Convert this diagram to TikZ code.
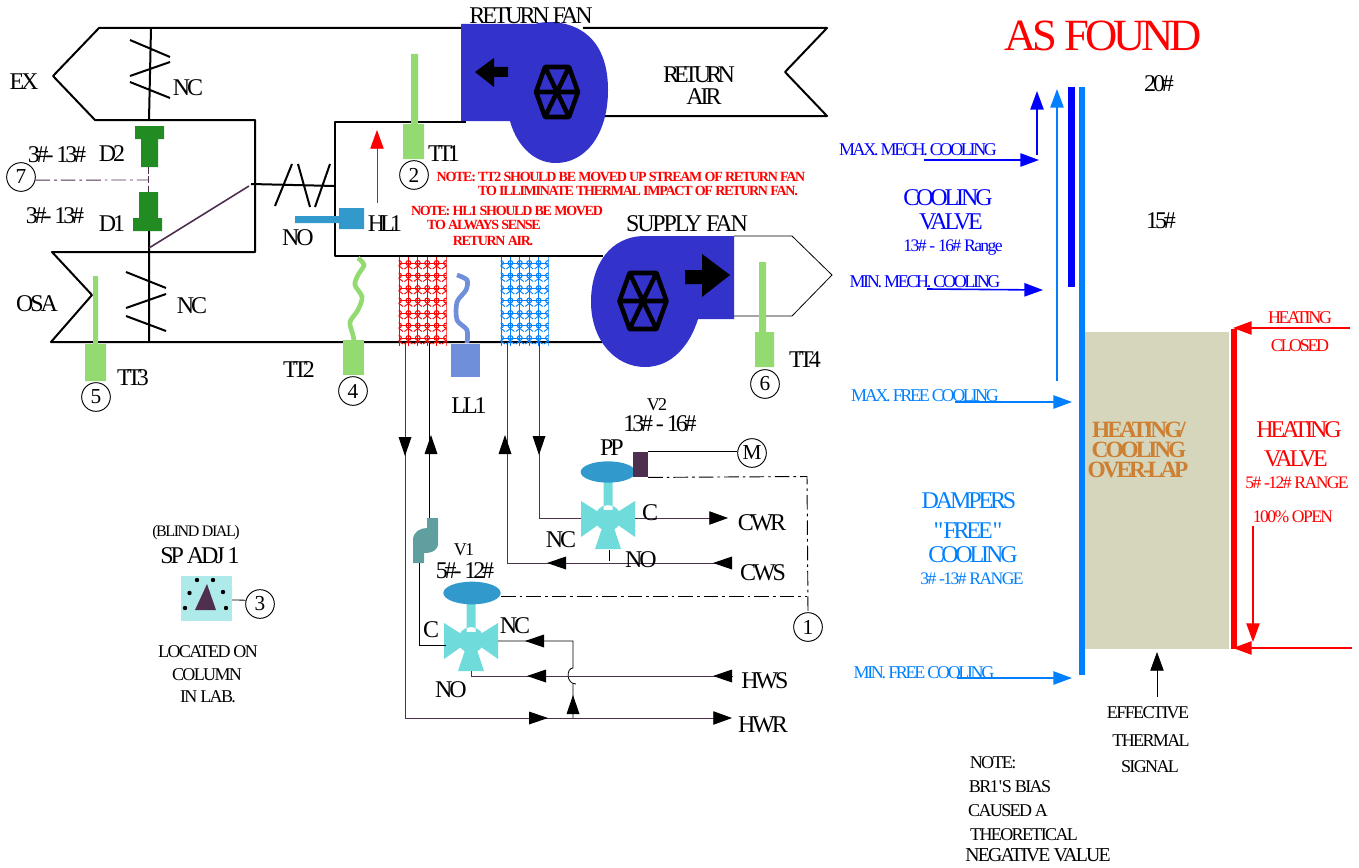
\documentclass[tikz,border=0pt]{standalone}
\usepackage{fontspec}
\setmainfont[LetterSpace=-13]{Liberation Serif}
\newfontfamily\loosefont[LetterSpace=-9]{Liberation Serif}
\newfontfamily\squeezefont[LetterSpace=-20]{Liberation Serif}
\usetikzlibrary{shapes.geometric,arrows.meta,calc,positioning}
\definecolor{fangreen}{RGB}{34,139,34}
\definecolor{sensegreen}{RGB}{147,219,112}
\definecolor{fanblue}{RGB}{51,51,204}
\definecolor{actblue}{RGB}{50,153,204}
\definecolor{valvecyan}{RGB}{112,219,219}
\definecolor{elbowteal}{RGB}{95,159,159}
\definecolor{levelblue}{RGB}{112,143,219}
\definecolor{linkpurple}{RGB}{79,47,79}
\definecolor{skyblue}{RGB}{0,128,255}
\definecolor{bandtan}{RGB}{214,214,188}
\definecolor{bandorange}{RGB}{205,127,50}
\definecolor{dialcyan}{RGB}{175,234,234}
\tikzset{
    txt/.style ={inner sep=0pt, font=\fontsize{18}{18}\selectfont},
    squeezed/.style ={inner sep=0pt, font=\squeezefont\fontsize{18}{18}\selectfont},
    mid/.style ={inner sep=0pt, font=\fontsize{13.5}{14}\selectfont},
    loose/.style ={inner sep=0pt, font=\loosefont\fontsize{13.5}{14}\selectfont},
    small/.style ={inner sep=0pt, font=\loosefont\fontsize{13.2}{14}\selectfont},
    big/.style ={inner sep=0pt, font=\loosefont\fontsize{33.5}{34}\selectfont},
    note/.style ={inner sep=0pt, red, font=\loosefont\bfseries\fontsize{10.5}{11}\selectfont},
    tag/.style ={circle, draw, line width=0.7pt, minimum size=21.5pt, inner sep=0pt, font=\loosefont\fontsize{16}{16}\selectfont},
    wall/.style ={line width=1.5pt},
    pipe/.style ={line width=0.6pt, linkpurple},
    bline/.style ={line width=0.6pt, black},
    ctrl/.style ={line width=0.7pt, dash pattern=on 11pt off 3pt on 2pt off 3pt},
    tipped/.style ={-{Triangle[length=14pt,width=10pt]}},
    blacktip/.style ={-{Triangle[length=14pt,width=10pt,black]}},
    tip/.pic ={\fill (0,0) -- (-19,6.5) -- (-19,-6.5) -- cycle;},
    fanwheel/.pic ={\draw[line width=3.4pt, line join=round] (-21,0) -- (-12,-25) -- (12,-25) -- (21,0) -- (12,25) -- (-12,25) -- cycle
        (-21,0) -- (21,0) (-12,-25) -- (12,25) (12,-25) -- (-12,25);},
    valvebody/.pic ={\fill[valvecyan] (-27,-19) -- (0,-2) -- (27,-19) -- (27,17) -- (0,-2) -- (-27,17) -- cycle
        (0,-2) circle (13) (-6,8) -- (6,8) -- (13,29) -- (-13,29) -- cycle (-4.5,-38) rectangle (4.5,-10);}
}
\newcommand{\coilmesh}[2]{%
    \begin{scope}
    \clip (#1-0.5,257) rectangle (#1+47.5,346);
    \foreach \cx in {0,1,...,5} \draw[#2, line width=0.7pt] (#1+\cx*9.4,257) -- (#1+\cx*9.4,346);
    \foreach \cy in {0,1,...,6} \draw[#2, line width=0.7pt] (#1,263+\cy*12.5) -- (#1+47,263+\cy*12.5);
    \foreach \cx in {0,1,...,5} \foreach \cy in {0,1,...,6} {
        \draw[#2, line width=0.8pt] (#1+\cx*9.4,263+\cy*12.5) circle (2.4);
        \draw[#2, line width=0.7pt] (#1+\cx*9.4-4,263+\cy*12.5+6) -- (#1+\cx*9.4,263+\cy*12.5+3) -- (#1+\cx*9.4+4,263+\cy*12.5+6);
    }
    \end{scope}
}
\begin{document}
\begin{tikzpicture}[x=0.75pt,y=-0.75pt]
    \useasboundingbox (0,0) rectangle (1359,867);
    % ducts
    \draw[wall, line join=round] (461,28) -- (99,28) -- (53,76) -- (95,120) -- (255,120) -- (255,252) -- (52,252) -- (92,295) -- (51,342) -- (602,342);
    \draw[wall, line join=round] (583,28) -- (827,28) -- (785,72) -- (827,116) -- (603,116);
    \draw[wall, line join=round] (466,122) -- (335,122) -- (335,256) -- (603,256);
    \draw[line width=0.6pt] (734,236) -- (792,236) -- (832,275) -- (792,316) -- (732,316);
    % dampers
    \draw[wall] (151,28) -- (149,120) (130,40) -- (170,57) (130,76) -- (170,62) (130,82) -- (170,98);
    \draw[wall] (149,231) -- (149,342) (126,272) -- (166,288) (126,308) -- (166,294) (126,316) -- (166,331);
    \draw[wall] (251,184) -- (335,186) (275,206) -- (292,164) (298,164) -- (310,207) (315,207) -- (330,164);
    \draw[linkpurple, line width=1.2pt] (149,248) -- (249,186);
    \fill[fangreen] (135,126) rectangle (164,139) (141,139) rectangle (158,167);
    \fill[fangreen] (139,192) rectangle (158,218) (133,218) rectangle (162,231);
    % coils
    \coilmesh{399}{red}
    \coilmesh{501}{skyblue}
    % return fan
    \fill[fanblue] (461,24) -- (535,24) .. controls (545,20) and (608,15) .. (608,90) .. controls (608,135) and (585,163) .. (556,163) .. controls (530,163) and (515,140) .. (510,121) -- (461,121) -- cycle;
    \pic at (557,92) {fanwheel};
    \fill (475,72) -- (494,58) -- (494,67) -- (508,67) -- (508,77) -- (494,77) -- (494,87) -- cycle;
    % supply fan
    \fill[fanblue] (734,236) -- (645,236) .. controls (610,236) and (591,265) .. (591,302) .. controls (591,340) and (615,367) .. (645,367) .. controls (672,367) and (690,345) .. (698,319) -- (734,319) -- cycle;
    \pic[scale=1.12] at (643,301) {fanwheel};
    \fill (730,275) -- (702,254) -- (702,270) -- (685,270) -- (685,284) -- (702,284) -- (702,297) -- cycle;
    % sensors
    \fill[sensegreen] (93,276) rectangle (98,344) (85,344) rectangle (106,381);
    \fill[sensegreen] (411,54) rectangle (418,124) (403,124) rectangle (424,159);
    \fill[sensegreen] (759,262) rectangle (766,332) (755,332) rectangle (774,367);
    \fill[sensegreen] (343,340) rectangle (364,375);
    \draw[sensegreen, line width=3.5pt] plot[smooth] coordinates {(358,258) (364,265) (358,275) (355,285) (362,297) (358,310) (350,322) (353,335) (354,341)};
    \fill[levelblue] (451,344) rectangle (480,377);
    \draw[levelblue, line width=3.5pt] plot[smooth] coordinates {(457,275) (467,280) (466,290) (457,302) (457,320) (467,330) (467,343)};
    \fill[actblue] (295,216) rectangle (340,223) (339,208) rectangle (364,229);
    \draw[red, line width=0.6pt, -{Triangle[length=14pt,width=10pt]}] (377,203) -- (377,130);
    % valves
    \pic at (471,642) {valvebody};
    \pic at (608,520) {valvebody};
    \node[ellipse, fill=actblue, minimum width=43pt, minimum height=17pt, inner sep=0pt] (act1) at (472,593) {};
    \node[ellipse, fill=actblue, minimum width=41pt, minimum height=16pt, inner sep=0pt] (act2) at (608,472) {};
    \node[rectangle, fill=linkpurple, minimum width=11pt, minimum height=19pt, inner sep=0pt] (ppbox) at (640.5,464.5) {};
    \fill[elbowteal] (427,518) -- (438,518) -- (438,543) .. controls (438,550) and (433,553) .. (424,553) -- (424,563) -- (413,563) -- (413,540) .. controls (413,532) and (420,528) .. (427,528) -- cycle;
    % tags
    \node[tag] (c1) at (808,627) {\raisebox{-4pt}{1}};
    \node[tag] (c2) at (414,175) {\raisebox{-3pt}{2}};
    \node[tag] (c3) at (260,604) {\raisebox{-3pt}{3}};
    \node[tag] (c4) at (353,391) {\raisebox{-4pt}{4}};
    \node[tag] (c5) at (96,397) {\raisebox{-2pt}{5}};
    \node[tag] (c6) at (765,384) {\raisebox{-2pt}{6}};
    \node[tag] (c7) at (21,177) {\raisebox{-2pt}{7}};
    \node[tag] (cm) at (752,453) {\raisebox{-3pt}{M}};
    % control lines
    \coordinate (ctrlA) at (807,476.5);
    \coordinate (ctrlB) at (807,596);
    \draw[ctrl] (ppbox.south east) -- (ctrlA) -- (c1.north);
    \draw[ctrl] (act1.east |- ctrlB) -- (ctrlB);
    \draw[bline] (ppbox.north east) -- (ppbox.north east -| cm.west);
    \draw[linkpurple, ctrl] (c7.348) -- (148,180);
    \draw[linkpurple, line width=0.7pt, dash pattern=on 5pt off 2pt] (148,167) -- (148,192);
    % pipes
    \coordinate (hwrA) at (405,718);
    \draw[pipe, blacktip] (405,343) -- (hwrA) -- (732,718);
    \pic[rotate=270] at (405,456) {tip};
    \pic at (548,718) {tip};
    \draw[bline] (429,343) -- (429,518);
    \pic[rotate=90] at (431,435) {tip};
    \coordinate (v1c) at (419,645);
    \draw[bline] (419,563) -- (v1c) -- (446,645);
    \coordinate (cwsA) at (507,563);
    \draw[pipe] (507,343) -- (cwsA) -- (732,563);
    \pic[rotate=90] at (505,435) {tip};
    \pic[rotate=180] at (547,563) {tip};
    \pic[rotate=180] at (713,563) {tip};
    \coordinate (cwrA) at (539,518);
    \draw[pipe] (539,343) -- (cwrA) -- (581,518);
    \pic[rotate=270] at (539,455) {tip};
    \draw[pipe, blacktip] (635,518) -- (728,518);
    \draw[bline] (609,550) -- (609,561);
    \coordinate (ncA) at (573,641);
    \draw[bline] (498,641) -- (ncA) -- (573,668) .. controls (566,668) and (566,684) .. (576,684) (573,684) -- (573,718);
    \pic[rotate=180] at (525,641) {tip};
    \pic[rotate=90] at (573,695) {tip};
    \coordinate (hwsA) at (471,676);
    \draw[pipe] (471,671) -- (hwsA) -- (733,676);
    \pic[rotate=180] at (527,676) {tip};
    \pic[rotate=180] at (713,676) {tip};
    % dial
    \node[rectangle, fill=dialcyan, minimum width=38pt, minimum height=34pt, inner sep=0pt] (dial) at (206.5,598.5) {};
    \fill[linkpurple] (207,584) -- (195,610) -- (216,610) -- cycle;
    \foreach \dotx/\doty in {197/580,213/580,189.5/593,223/592,185/608,226/608} \fill (\dotx,\doty) circle (2.2);
    \draw[bline] (dial.east) ++(0,1.5) -- (c3.165);
    % duct labels
    \node[txt] (ex) at (24,82) {EX};
    \node[txt] (nctop) at (188,88) {NC};
    \node[txt] (d2) at (112,154) {D2};
    \node[txt] (d2range) at (57,155) {3\#- 13\#};
    \node[txt] (d1range) at (55,216) {3\#- 13\#};
    \node[txt] (d1) at (112,224) {D1};
    \node[txt] (nomid) at (298,238) {NO};
    \node[squeezed] (hl1) at (385,224) {HL1};
    \node[txt] (ncbot) at (192,306) {NC};
    \node[txt] (osa) at (37,304) {OSA};
    \node[squeezed] (tt3) at (133,378) {TT3};
    \node[squeezed] (tt2) at (299,370) {TT2};
    \node[squeezed] (tt1) at (444,154) {TT1};
    \node[squeezed] (tt4) at (805,360) {TT4};
    \node[txt] (ll1) at (469,406) {LL1};
    \node[txt] (retfan) at (531,16) {RETURN FAN};
    \node[txt] (suppfan) at (687,224) {\loosefont SUPPLY FAN};
    \node[squeezed] (retair) at (699,75) {RETURN};
    \node[txt] (retair2) at (704,97) {AIR};
    % red notes
    \node[note] (note1) at (621,177) {NOTE: TT2 SHOULD BE MOVED UP STREAM OF RETURN FAN};
    \node[note] (note2) at (638,191) {TO ILLIMINATE THERMAL IMPACT OF RETURN FAN.};
    \node[note] (note3) at (507,211) {NOTE: HL1 SHOULD BE MOVED};
    \node[note] (note4) at (484,225) {TO ALWAYS SENSE};
    \node[note] (note5) at (493,241) {RETURN AIR.};
    % valve labels
    \node[loose] (v2) at (657,405) {V2};
    \node[txt] (v2range) at (660,424) {13\# - 16\#};
    \node[txt] (pp) at (612,448) {PP};
    \node[txt] (v2c) at (650,513) {C};
    \node[txt] (cwr) at (762,523) {CWR};
    \node[txt] (v2nc) at (561,540) {NC};
    \node[txt] (v2no) at (641,560) {NO};
    \node[txt] (cws) at (763,573) {CWS};
    \node[loose] (v1) at (464,550) {V1};
    \node[txt] (v1range) at (465,571) {5\#- 12\#};
    \node[txt] (v1cl) at (431,630) {C};
    \node[txt] (v1nc) at (515,626) {NC};
    \node[txt] (v1no) at (451,690) {NO};
    \node[txt] (hws) at (765,681) {HWS};
    \node[txt] (hwr) at (763,725) {HWR};
    % dial labels
    \node[small, font=\loosefont\fontsize{12}{12}\selectfont] (blind) at (196,533) {(BLIND DIAL)};
    \node[txt] (spadj) at (200,556) {SP ADJ 1};
    \node[loose] (loc1) at (208,652) {LOCATED ON};
    \node[loose] (loc2) at (207,675) {COLUMN};
    \node[loose] (loc3) at (208,697) {IN LAB.};
    % chart
    \node[big, red] (found) at (1103,36) {AS FOUND};
    \node[txt] (p20) at (1159,84) {20\#};
    \node[txt] (p15) at (1161,221) {15\#};
    \fill[bandtan] (1085,332) rectangle (1229,649);
    \fill[blue] (1068,87) rectangle (1074.5,287);
    \fill[skyblue] (1079,87) rectangle (1085,675);
    \fill[red] (1231,329) rectangle (1237,649);
    \coordinate (upA) at (1037,155);
    \coordinate (upB) at (1057,381);
    \draw[blue, line width=1.2pt, tipped] (upA) -- (1037,91);
    \draw[skyblue, line width=1.2pt, tipped] (upB) -- (1057,89);
    \draw[blue, line width=1.2pt, tipped] (924,160) -- (1039,160);
    \draw[blue, line width=1.2pt, tipped] (927,289) -- (1043,290);
    \draw[skyblue, line width=1.2pt, tipped] (955,402) -- (1072,402);
    \draw[skyblue, line width=1.2pt, tipped] (957,678) -- (1072,678);
    \draw[red, line width=1.2pt, tipped] (1350,328) -- (1233,328);
    \draw[red, line width=1.2pt, tipped] (1352,648) -- (1233,648);
    \draw[red, line width=0.9pt, tipped] (1253,526) -- (1253,642);
    \draw[line width=0.6pt, tipped] (1157,697) -- (1157,652);
    % chart labels
    \node[mid, blue] (maxmech) at (918,150) {MAX. MECH. COOLING};
    \node[mid, blue] (minmech) at (925,282) {MIN. MECH. COOLING};
    \node[txt, blue] (coolval) at (948,198) {COOLING};
    \node[txt, blue] (coolval2) at (951,222) {VALVE};
    \node[small, blue] (coolrange) at (953,248) {13\# - 16\# Range};
    \node[mid, skyblue] (maxfree) at (925,396) {MAX. FREE COOLING};
    \node[mid, skyblue] (minfree) at (924,673) {MIN. FREE COOLING};
    \node[txt, skyblue] (damp) at (969,501) {DAMPERS};
    \node[txt, skyblue] (damp2) at (968,531) {\textquotedbl FREE\textquotedbl};
    \node[txt, skyblue] (damp3) at (973,555) {COOLING};
    \node[small, skyblue] (damprange) at (972,579) {3\# -13\# RANGE};
    \node[txt, bandorange, font=\bfseries\fontsize{17.5}{18}\selectfont] (lap1) at (1139,430) {HEATING/};
    \node[txt, bandorange, font=\bfseries\fontsize{17.5}{18}\selectfont] (lap2) at (1139,450) {COOLING};
    \node[txt, bandorange, font=\bfseries\fontsize{17.5}{18}\selectfont] (lap3) at (1138,470) {OVER-LAP};
    \node[txt, red] (heat) at (1299,430) {HEATING};
    \node[txt, red] (heat2) at (1296,459) {VALVE};
    \node[small, red] (heatrange) at (1297,483) {5\# -12\# RANGE};
    \node[small, red] (heatopen) at (1293,517) {100\% OPEN};
    \node[mid, red] (heatcl) at (1300,318) {HEATING};
    \node[mid, red] (heatcl2) at (1300,346) {CLOSED};
    \node[loose] (eff1) at (1148,713) {EFFECTIVE};
    \node[loose] (eff2) at (1151,741) {THERMAL};
    \node[loose] (eff3) at (1150,767) {SIGNAL};
    \node[loose] (bias1) at (993,763) {NOTE:};
    \node[loose] (bias2) at (1010,787) {BR1\textquotesingle S BIAS};
    \node[loose] (bias3) at (1008,811) {CAUSED A};
    \node[loose] (bias4) at (1024,835) {THEORETICAL};
    \node[loose, font=\loosefont\fontsize{14.8}{15}\selectfont] (bias5) at (1038,855) {NEGATIVE VALUE};
\end{tikzpicture}
\end{document}
